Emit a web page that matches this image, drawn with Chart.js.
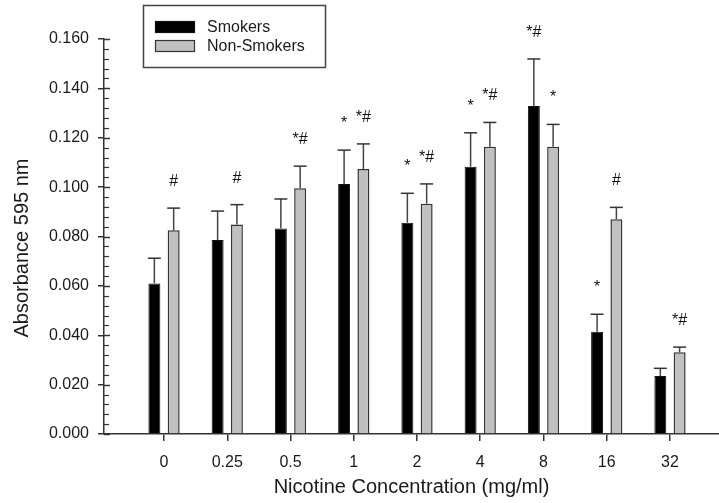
<!DOCTYPE html>
<html><head><meta charset="utf-8">
<script src="https://cdn.jsdelivr.net/npm/chart.js@4/dist/chart.umd.min.js"></script>
<style>html,body{margin:0;padding:0;background:#fff}#wrap{width:719px;height:503px}</style>
</head><body><div id="wrap"><canvas id="c" width="719" height="503"></canvas></div>
<script>
const categories = ['0', '0.25', '0.5', '1', '2', '4', '8', '16', '32'];
const smokers = [0.0610, 0.0786, 0.0832, 0.1013, 0.0856, 0.1083, 0.1329, 0.0414, 0.0235];
const smokersSD = [0.0102, 0.0117, 0.0120, 0.0137, 0.0119, 0.0137, 0.0190, 0.0071, 0.0031];
const nonSmokers = [0.0825, 0.0849, 0.0995, 0.1073, 0.0933, 0.1164, 0.1164, 0.0870, 0.0331];
const nonSmokersSD = [0.0090, 0.0080, 0.0090, 0.0102, 0.0080, 0.0098, 0.0090, 0.0048, 0.0021];
const smokersMarks = ['', '', '', '*', '*', '*', '*#', '*', ''];
const nonSmokersMarks = ['#', '#', '*#', '*#', '*#', '*#', '*', '#', '*#'];
const yTicks = [0, 0.02, 0.04, 0.06, 0.08, 0.10, 0.12, 0.14, 0.16];
const yMinorStep = 0.004;
const xTitle = 'Nicotine Concentration (mg/ml)';
const yTitle = 'Absorbance 595 nm';

const FONT = '"Liberation Sans", Arial, sans-serif';
const TXT = '#1a1a1a';
const AX = '#333';

const errs = [smokersSD, nonSmokersSD];
const marks = [smokersMarks, nonSmokersMarks];

const extrasPlugin = {
  id: 'extras',
  afterDatasetsDraw(chart) {
    const ctx = chart.ctx;
    const y = chart.scales.y;
    ctx.save();
    chart.data.datasets.forEach((ds, di) => {
      const meta = chart.getDatasetMeta(di);
      meta.data.forEach((bar, i) => {
        const v = ds.data[i].y;
        const top = y.getPixelForValue(v + errs[di][i]);
        const yb = y.getPixelForValue(v);
        ctx.strokeStyle = '#444';
        ctx.lineWidth = 1.5;
        ctx.beginPath();
        ctx.moveTo(bar.x, yb);
        ctx.lineTo(bar.x, top);
        ctx.stroke();
        ctx.strokeStyle = AX;
        ctx.beginPath();
        ctx.moveTo(bar.x - 6.5, top);
        ctx.lineTo(bar.x + 6.5, top);
        ctx.stroke();
        const m = marks[di][i];
        if (m) {
          ctx.fillStyle = '#111';
          ctx.font = '16px ' + FONT;
          ctx.textAlign = 'center';
          ctx.textBaseline = 'alphabetic';
          ctx.fillText(m, bar.x, top - 22);
        }
      });
    });
    ctx.restore();
  },
  afterDraw(chart) {
    const ctx = chart.ctx;
    const y = chart.scales.y;
    const left = chart.chartArea.left;
    ctx.save();
    ctx.strokeStyle = AX;
    const nMinor = Math.round((yTicks[yTicks.length - 1] - yTicks[0]) / yMinorStep);
    for (let k = 0; k <= nMinor; k++) {
      const v = yTicks[0] + k * yMinorStep;
      const major = k % 5 === 0;
      const py = Math.round(y.getPixelForValue(v)) + 0.5;
      ctx.lineWidth = major ? 1.5 : 1.2;
      ctx.beginPath();
      ctx.moveTo(left, py);
      ctx.lineTo(left + (major ? 6 : 5), py);
      ctx.stroke();
    }
    ctx.fillStyle = TXT;
    ctx.font = '20px ' + FONT;
    ctx.textAlign = 'center';
    ctx.textBaseline = 'middle';
    ctx.translate(22, 248);
    ctx.rotate(-Math.PI / 2);
    ctx.fillText(yTitle, 0, 0);
    ctx.setTransform(1, 0, 0, 1, 0, 0);
    ctx.strokeStyle = '#444';
    ctx.lineWidth = 1.5;
    ctx.strokeRect(143.5, 5.5, 182, 62);
    const rows = [27, 46];
    chart.data.datasets.forEach((ds, di) => {
      const ry = rows[di];
      ctx.fillStyle = ds.backgroundColor;
      ctx.fillRect(155, ry - 6, 40, 12);
      ctx.strokeStyle = ds.borderColor;
      ctx.lineWidth = 1.2;
      ctx.strokeRect(155.5, ry - 5.5, 39, 11);
      ctx.fillStyle = TXT;
      ctx.font = '16px ' + FONT;
      ctx.textAlign = 'left';
      ctx.textBaseline = 'middle';
      ctx.fillText(ds.label, 207, ry + 1);
    });
    ctx.restore();
  }
};

new Chart(document.getElementById('c'), {
  type: 'bar',
  data: {
    datasets: [
      { label: 'Smokers', data: smokers.map((v, i) => ({ x: i, y: v })),
        backgroundColor: '#000000', borderColor: '#111111', borderWidth: 1 },
      { label: 'Non-Smokers', data: nonSmokers.map((v, i) => ({ x: i, y: v })),
        backgroundColor: '#c0c0c0', borderColor: '#333333', borderWidth: 1.5 }
    ]
  },
  options: {
    responsive: false,
    animation: false,
    devicePixelRatio: 1,
    categoryPercentage: 0.61,
    barPercentage: 0.62,
    layout: { padding: { top: 39, right: 0, left: 0, bottom: 0 } },
    plugins: { legend: { display: false }, tooltip: { enabled: false } },
    scales: {
      x: {
        type: 'linear', min: -0.949, max: 8.775, offset: false,
        afterBuildTicks: s => { s.ticks = categories.map((c, i) => ({ value: i })); },
        ticks: { callback: v => categories[v], font: { size: 16, family: FONT }, color: TXT, padding: 12, autoSkip: false, maxRotation: 0 },
        grid: { offset: false, drawOnChartArea: false, drawTicks: true, tickLength: 7, color: AX, lineWidth: 1.5 },
        border: { color: AX, width: 1.5 },
        title: { display: true, text: xTitle, font: { size: 20, family: FONT }, color: TXT, padding: { top: 0, bottom: 4 } },
        afterFit: s => { s.height = 69; }
      },
      y: {
        type: 'linear', min: 0, max: 0.16,
        afterBuildTicks: s => { s.ticks = yTicks.map(v => ({ value: v })); },
        ticks: { callback: v => v.toFixed(3), font: { size: 16, family: FONT }, color: TXT, padding: 9 },
        grid: { drawOnChartArea: false, drawTicks: true, tickLength: 6, color: AX, lineWidth: 1.5 },
        border: { color: AX, width: 1.5 },
        afterFit: s => { s.width = 104; }
      }
    }
  },
  plugins: [extrasPlugin]
});
</script>
</body></html>
